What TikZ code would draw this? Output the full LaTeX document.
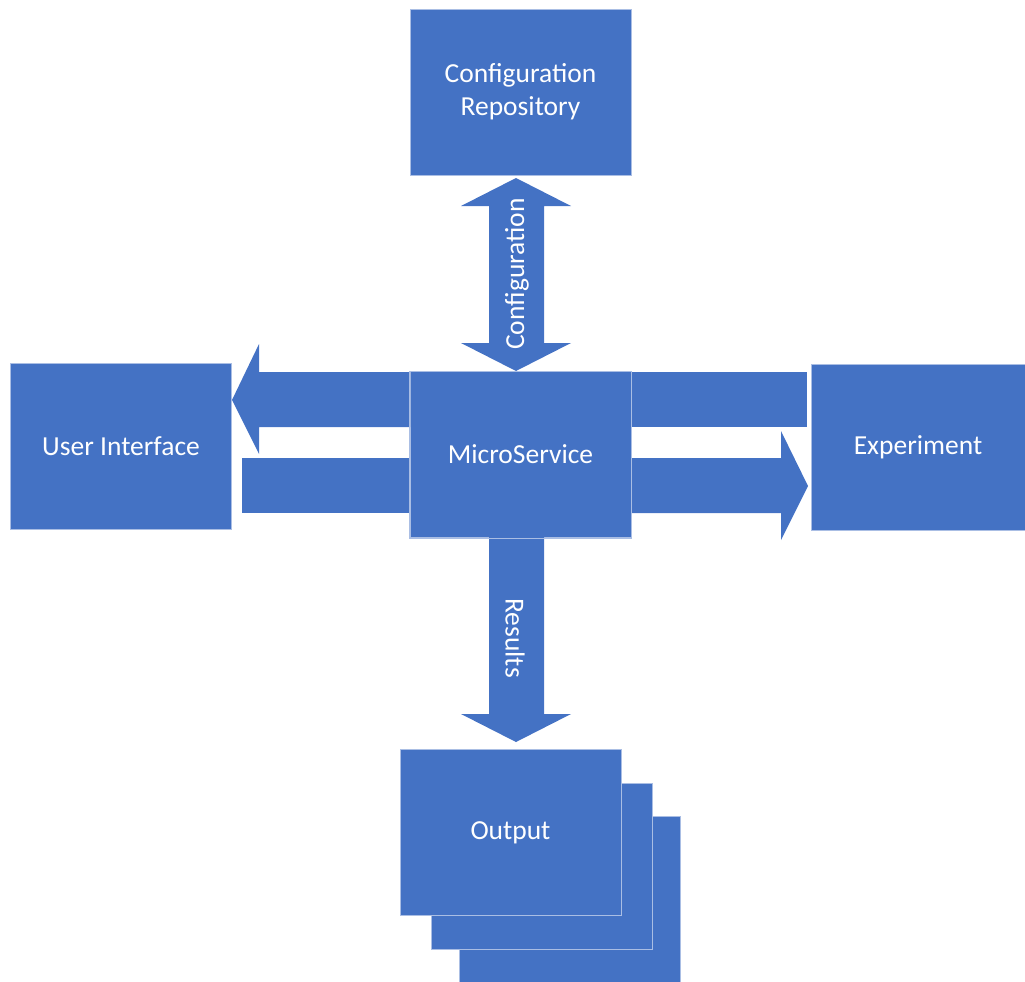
\documentclass[tikz,border=0pt]{standalone}
\usepackage{fontspec}
\setmainfont{Carlito}
\definecolor{boxblue}{RGB}{68,114,196}
\definecolor{boxedge}{RGB}{170,190,228}
\begin{document}
\begin{tikzpicture}[x=1pt,y=-1pt,
  block/.style={fill=boxblue,draw=boxedge,line width=0.8pt,minimum width=221pt,minimum height=166pt,
    inner sep=0pt,text=white,align=center,font=\fontsize{27.5}{33}\selectfont},
  flow/.style={fill=boxblue,draw=none},
  flowtext/.style={text=white,font=\fontsize{27.5}{33}\selectfont,inner sep=0pt}]
\useasboundingbox (0,0) rectangle (1025,982);

% central service and its neighbours
\node[block] (repo) at (520.5,92) {Configuration\\Repository};
\node[block] (ms) at (520.5,454.5) {MicroService};
\node[block] (ui) at (121,446) {User Interface};
\node[block,minimum width=214pt] (exp) at (918,447.5) {Experiment};

% stacked output sheets, back to front
\node[block] (out3) at (569.5,899) {};
\node[block] (out2) at (541.5,866) {};
\node[block] (out1) at (510.5,832.5) {Output};

% configuration: two-headed arrow between repository and service
\fill[flow] (516,178) -- (571,206) -- (544,206) -- (544,343) -- (571,343) -- (516,371)
  -- (461,343) -- (489,343) -- (489,206) -- (461,206) -- cycle;
\node[flowtext,rotate=90] (cfg) at (517,274) {Configuration};

% results: service down to output
\fill[flow] (489,537) -- (544,537) -- (544,714) -- (571,714) -- (516,742) -- (461,714)
  -- (489,714) -- cycle;
\node[flowtext,rotate=-90] (res) at (515,638) {Results};

% user interface exchange
\fill[flow] (410,372) -- (259,372) -- (259,344) -- (232,400) -- (259,454) -- (259,427)
  -- (410,427) -- cycle;
\fill[flow] (242,458) rectangle (410,513);

% experiment exchange
\fill[flow] (631,372) rectangle (807,427);
\fill[flow] (631,458) -- (781,458) -- (781,431) -- (808,486) -- (781,540) -- (781,513)
  -- (631,513) -- cycle;

% redraw service outline over the arrow ends
\draw[boxedge,line width=0.8pt] (ms.north west) rectangle (ms.south east);
\end{tikzpicture}
\end{document}
